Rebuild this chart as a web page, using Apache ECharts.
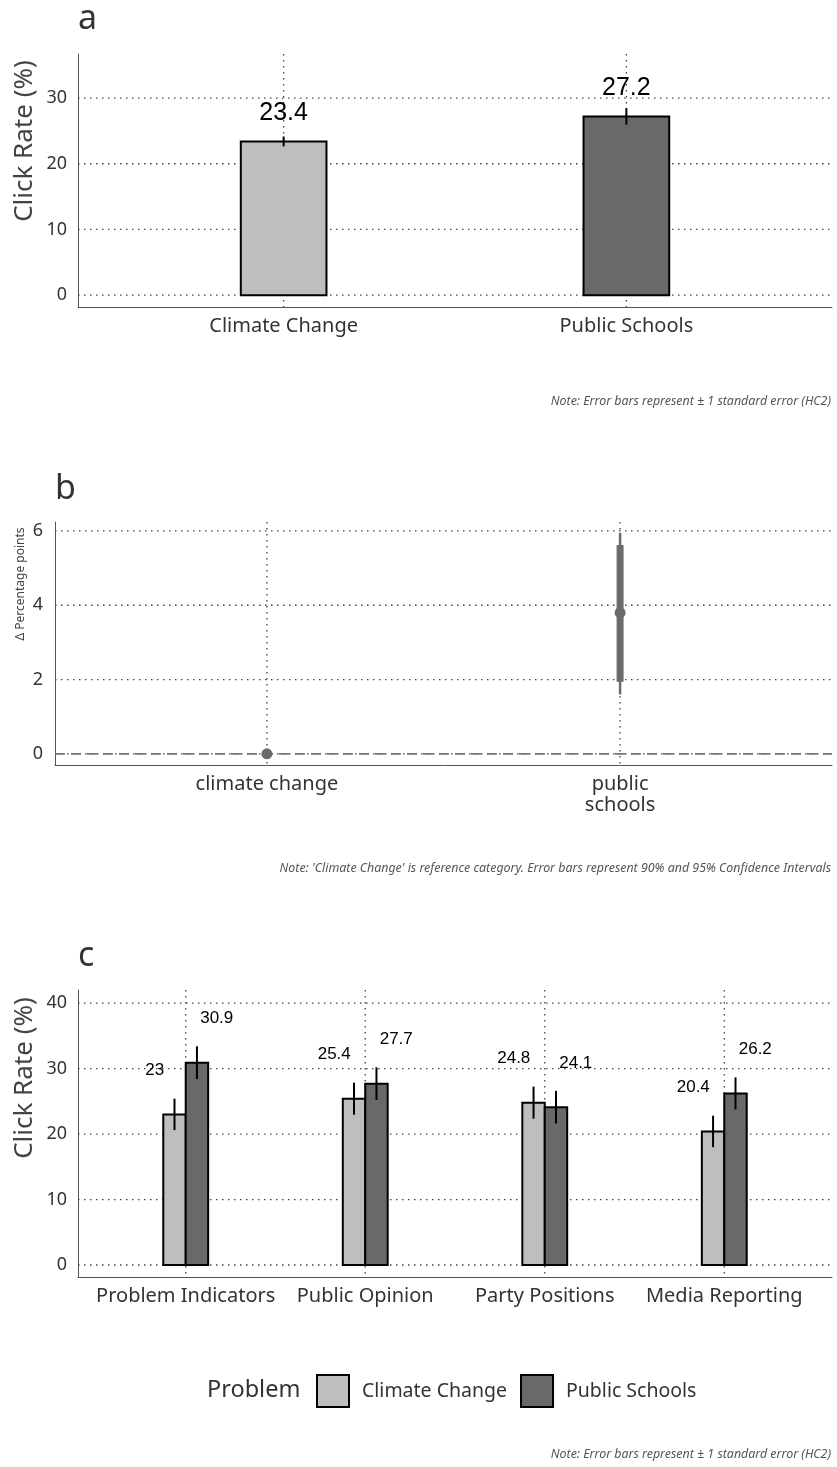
<!DOCTYPE html>
<html>
<head>
<meta charset="utf-8">
<title>Click rates by problem</title>
<script src="https://cdn.jsdelivr.net/npm/echarts@6/dist/echarts.min.js"></script>
<style>
  html, body { margin: 0; padding: 0; background: #fff; }
  #chart { width: 837px; height: 1467px; }
</style>
</head>
<body>
<div id="chart"></div>
<script>
// a: pooled click rate
var aCategories = ["Climate Change", "Public Schools"];
var aRates = [23.4, 27.2];
var aSE = [0.75, 1.25];
var aTicks = [0, 10, 20, 30];

// b: difference to climate change (90% / 95% CI)
var bCategories = ["climate change", "public\nschools"];
var bEstimate = [0, 3.8];
var bLow90 = [0, 1.94];
var bHigh90 = [0, 5.62];
var bLow95 = [0, 1.6];
var bHigh95 = [0, 5.95];
var bTicks = [0, 2, 4, 6];
var bReference = [0];

// c: click rate by information type
var cCategories = ["Problem Indicators", "Public Opinion", "Party Positions", "Media Reporting"];
var cClimate = [23, 25.4, 24.8, 20.4];
var cSchools = [30.9, 27.7, 24.1, 26.2];
var cClimateSE = [2.4, 2.45, 2.45, 2.4];
var cSchoolsSE = [2.5, 2.5, 2.5, 2.45];
var cTicks = [0, 10, 20, 30, 40];

var LIGHT = "#bebebe", DARK = "#696969";
var FONT = "'Noto Sans', 'Open Sans', sans-serif";
var NUMFONT = "'Liberation Sans', Arial, sans-serif";
var AXIS = "#555";

function positions(cats) {
  return cats.map(function (c, i) { return i + 1; });
}

// dotted grid lines drawn through the axes' scales
function gridLines(idx, hTicks, vTicks, style) {
  var data = hTicks.map(function (v) { return [1, v, 0]; })
    .concat(vTicks.map(function (p) { return [p, 0, 1]; }));
  return {
    type: "custom", xAxisIndex: idx, yAxisIndex: idx, z: 1, silent: true,
    data: data,
    renderItem: function (params, api) {
      var cs = params.coordSys;
      var p = api.coord([api.value(0), api.value(1)]);
      var shape = api.value(2) === 0
        ? { x1: cs.x, y1: p[1], x2: cs.x + cs.width, y2: p[1] }
        : { x1: p[0], y1: cs.y, x2: p[0], y2: cs.y + cs.height };
      return { type: "line", shape: shape, style: style };
    }
  };
}
var dotted = { stroke: "#444", lineWidth: 1.3, lineDash: [1.5, 4.5] };

function xAx(idx, cats) {
  return {
    type: "value", gridIndex: idx, min: 0.4, max: cats.length + 0.6,
    axisLine: { show: true, onZero: false, lineStyle: { color: AXIS, width: 1 } },
    axisTick: { show: false }, splitLine: { show: false },
    axisLabel: {
      customValues: positions(cats),
      formatter: function (v) { return cats[Math.round(v) - 1]; },
      color: "#333", fontSize: 20, fontFamily: FONT, margin: 9, lineHeight: 21
    }
  };
}
function yAx(idx, min, max, ticks, margin) {
  return {
    type: "value", gridIndex: idx, min: min, max: max,
    axisLine: { show: true, onZero: false, lineStyle: { color: AXIS, width: 1 } },
    axisTick: { show: false }, splitLine: { show: false },
    axisLabel: { customValues: ticks, color: "#333", fontSize: 18, fontFamily: FONT, margin: margin }
  };
}

// bar + error bar + value label
function barSeries(name, idx, values, ses, offset, width, fill, labelDx, labelDy, labelSize) {
  return {
    type: "custom", name: name, xAxisIndex: idx, yAxisIndex: idx, z: 3,
    data: values.map(function (v, i) { return [i + 1, v, ses[i]]; }),
    renderItem: function (params, api) {
      var x = api.value(0) + offset, v = api.value(1), se = api.value(2);
      var p0 = api.coord([x - width / 2, 0]);
      var p1 = api.coord([x + width / 2, v]);
      var e0 = api.coord([x, v - se]);
      var e1 = api.coord([x, v + se]);
      var top = api.coord([api.value(0), v]);
      var f = typeof fill === "function" ? fill(params.dataIndex) : fill;
      return {
        type: "group",
        children: [
          { type: "rect", shape: { x: p0[0], y: p1[1], width: p1[0] - p0[0], height: p0[1] - p1[1] },
            style: { fill: f, stroke: "#000", lineWidth: 2 } },
          { type: "line", shape: { x1: e0[0], y1: e0[1], x2: e1[0], y2: e1[1] },
            style: { stroke: "#000", lineWidth: 2 } },
          { type: "text", x: top[0] + labelDx, y: top[1] - labelDy,
            style: { text: String(v), fill: "#000", fontSize: labelSize, fontFamily: NUMFONT,
                     align: "center", verticalAlign: "middle" } }
        ]
      };
    }
  };
}

var chart = echarts.init(document.getElementById("chart"));

var noteStyle = { fontSize: 12.4, fontStyle: "italic", fontWeight: "normal", color: "#555", fontFamily: FONT };
var panelStyle = { fontSize: 34, fontWeight: "normal", color: "#333", fontFamily: FONT };

var option = {
  animation: false,
  backgroundColor: "#fff",
  title: [
    { text: "a", left: 78, top: 2, padding: 0, textStyle: panelStyle },
    { text: "b", left: 55, top: 472, padding: 0, textStyle: panelStyle },
    { text: "c", left: 78, top: 939, padding: 0, textStyle: panelStyle },
    { text: "Note: Error bars represent ± 1 standard error (HC2)", right: 6, top: 395, padding: 0, textStyle: noteStyle },
    { text: "Note: 'Climate Change' is reference category. Error bars represent 90% and 95% Confidence Intervals",
      right: 6, top: 862, padding: 0, textStyle: noteStyle },
    { text: "Note: Error bars represent ± 1 standard error (HC2)", right: 6, top: 1448, padding: 0, textStyle: noteStyle },
    { text: "Problem", left: 207, top: 1378, padding: 0,
      textStyle: { fontSize: 23.5, fontWeight: "normal", color: "#333", fontFamily: FONT } }
  ],
  graphic: [
    { type: "text", x: 25, y: 141, rotation: Math.PI / 2,
      style: { text: "Click Rate (%)", fontSize: 26, fontFamily: FONT, fill: "#444", align: "center", verticalAlign: "middle" } },
    { type: "text", x: 21, y: 584, rotation: Math.PI / 2,
      style: { text: "Δ Percentage points", fontSize: 12, fontFamily: FONT, fill: "#444", align: "center", verticalAlign: "middle" } },
    { type: "text", x: 25, y: 1078, rotation: Math.PI / 2,
      style: { text: "Click Rate (%)", fontSize: 26, fontFamily: FONT, fill: "#444", align: "center", verticalAlign: "middle" } }
  ],
  legend: {
    left: 316, top: 1374, orient: "horizontal", padding: 0,
    itemWidth: 32, itemHeight: 32, itemGap: 13, selectedMode: false,
    textStyle: { fontSize: 19.5, color: "#333", fontFamily: FONT, padding: [0, 0, 0, 8] },
    data: [
      { name: "Climate Change", icon: "rect", itemStyle: { color: LIGHT, borderColor: "#000", borderWidth: 2 } },
      { name: "Public Schools", icon: "rect", itemStyle: { color: DARK, borderColor: "#000", borderWidth: 2 } }
    ]
  },
  grid: [
    { left: 78, top: 54, width: 754, height: 253 },
    { left: 55, top: 522, width: 777, height: 243 },
    { left: 78, top: 990, width: 754, height: 287 }
  ],
  xAxis: [xAx(0, aCategories), xAx(1, bCategories), xAx(2, cCategories)],
  yAxis: [
    yAx(0, -1.8, 36.7, aTicks, 11),
    yAx(1, -0.3, 6.24, bTicks, 12),
    yAx(2, -1.83, 42, cTicks, 11)
  ],
  series: [
    gridLines(0, aTicks, positions(aCategories), dotted),
    gridLines(1, bTicks, positions(bCategories), dotted),
    gridLines(2, cTicks, positions(cCategories), dotted),
    gridLines(1, bReference, [], { stroke: "#777", lineWidth: 1.6, lineDash: [10, 6] }),

    barSeries("pooled", 0, aRates, aSE, 0, 0.25,
      function (i) { return i === 0 ? LIGHT : DARK; }, 0, 28, 25),

    {
      type: "custom", name: "difference", xAxisIndex: 1, yAxisIndex: 1, z: 3,
      data: bEstimate.map(function (v, i) { return [i + 1, v, bLow90[i], bHigh90[i], bLow95[i], bHigh95[i]]; }),
      renderItem: function (params, api) {
        var x = api.value(0);
        var pt = api.coord([x, api.value(1)]);
        var l90 = api.coord([x, api.value(2)]), h90 = api.coord([x, api.value(3)]);
        var l95 = api.coord([x, api.value(4)]), h95 = api.coord([x, api.value(5)]);
        return {
          type: "group",
          children: [
            { type: "line", shape: { x1: l95[0], y1: l95[1], x2: h95[0], y2: h95[1] },
              style: { stroke: "#6b6b6b", lineWidth: 2.5 } },
            { type: "line", shape: { x1: l90[0], y1: l90[1], x2: h90[0], y2: h90[1] },
              style: { stroke: "#6b6b6b", lineWidth: 7 } },
            { type: "circle", shape: { cx: pt[0], cy: pt[1], r: 5.5 }, style: { fill: "#6b6b6b" } }
          ]
        };
      }
    },

    barSeries("Climate Change", 2, cClimate, cClimateSE, -0.0625, 0.125, LIGHT, -31, 44, 17),
    barSeries("Public Schools", 2, cSchools, cSchoolsSE, 0.0625, 0.125, DARK, 31, 44, 17)
  ]
};

chart.setOption(option);
</script>
</body>
</html>
